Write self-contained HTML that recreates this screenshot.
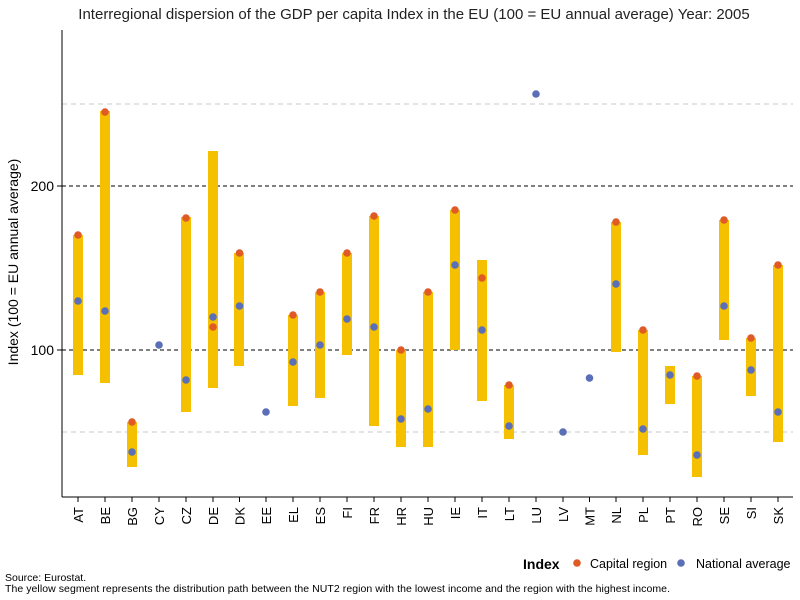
<!DOCTYPE html>
<html><head><meta charset="utf-8"><style>
body{margin:0;background:#fff;}
svg{display:block;font-family:"Liberation Sans",sans-serif;}
</style></head><body>
<svg width="800" height="600" xmlns="http://www.w3.org/2000/svg">
<rect width="800" height="600" fill="#fff"/>
<text x="414" y="19" font-size="15" text-anchor="middle" fill="#222">Interregional dispersion of the GDP per capita Index in the EU (100 = EU annual average) Year: 2005</text>
<g stroke="#c8c8c8" stroke-dasharray="5,4" stroke-width="1">
<line x1="62" x2="793" y1="104" y2="104"/><line x1="62" x2="793" y1="432" y2="432"/></g>
<g stroke="#000" stroke-dasharray="4,3" stroke-width="1">
<line x1="62" x2="793" y1="186" y2="186"/><line x1="62" x2="793" y1="350" y2="350"/></g>
<line x1="62" y1="30" x2="62" y2="497" stroke="#000"/>
<line x1="62" y1="497" x2="793" y2="497" stroke="#000"/>
<line x1="57" x2="62" y1="186" y2="186" stroke="#000"/><line x1="57" x2="62" y1="350" y2="350" stroke="#000"/>
<g stroke="#000">
<line x1="78" x2="78" y1="497" y2="502"/><line x1="105" x2="105" y1="497" y2="502"/><line x1="132" x2="132" y1="497" y2="502"/><line x1="159" x2="159" y1="497" y2="502"/><line x1="186" x2="186" y1="497" y2="502"/><line x1="213" x2="213" y1="497" y2="502"/><line x1="239.5" x2="239.5" y1="497" y2="502"/><line x1="266" x2="266" y1="497" y2="502"/><line x1="293" x2="293" y1="497" y2="502"/><line x1="320" x2="320" y1="497" y2="502"/><line x1="347" x2="347" y1="497" y2="502"/><line x1="374" x2="374" y1="497" y2="502"/><line x1="401" x2="401" y1="497" y2="502"/><line x1="428" x2="428" y1="497" y2="502"/><line x1="455" x2="455" y1="497" y2="502"/><line x1="482" x2="482" y1="497" y2="502"/><line x1="509" x2="509" y1="497" y2="502"/><line x1="536" x2="536" y1="497" y2="502"/><line x1="563" x2="563" y1="497" y2="502"/><line x1="589.5" x2="589.5" y1="497" y2="502"/><line x1="616" x2="616" y1="497" y2="502"/><line x1="643" x2="643" y1="497" y2="502"/><line x1="670" x2="670" y1="497" y2="502"/><line x1="697" x2="697" y1="497" y2="502"/><line x1="724" x2="724" y1="497" y2="502"/><line x1="751" x2="751" y1="497" y2="502"/><line x1="778" x2="778" y1="497" y2="502"/>
</g>
<text x="54" y="191" font-size="14" text-anchor="end">200</text>
<text x="54" y="355" font-size="14" text-anchor="end">100</text>
<text transform="translate(18,262) rotate(-90)" font-size="14" text-anchor="middle">Index (100 = EU annual average)</text>
<g fill="#f5c000">
<rect x="73" y="235" width="10" height="140"/>
<rect x="100" y="111" width="10" height="272"/>
<rect x="127" y="422" width="10" height="45"/>
<rect x="181" y="217" width="10" height="195"/>
<rect x="208" y="151" width="10" height="237"/>
<rect x="234" y="253" width="10" height="113"/>
<rect x="288" y="315" width="10" height="91"/>
<rect x="315" y="292" width="10" height="106"/>
<rect x="342" y="253" width="10" height="102"/>
<rect x="369" y="216" width="10" height="210"/>
<rect x="396" y="350" width="10" height="97"/>
<rect x="423" y="292" width="10" height="155"/>
<rect x="450" y="210" width="10" height="140"/>
<rect x="477" y="260" width="10" height="141"/>
<rect x="504" y="385" width="10" height="54"/>
<rect x="611" y="222" width="10" height="130"/>
<rect x="638" y="330" width="10" height="125"/>
<rect x="665" y="366" width="10" height="38"/>
<rect x="692" y="376" width="10" height="101"/>
<rect x="719" y="220" width="10" height="120"/>
<rect x="746" y="338" width="10" height="58"/>
<rect x="773" y="265" width="10" height="177"/>
</g>
<g fill="#df5a24">
<circle cx="78" cy="235" r="3.8"/><circle cx="105" cy="112" r="3.8"/><circle cx="132" cy="422" r="3.8"/>
<circle cx="186" cy="218" r="3.8"/><circle cx="213" cy="327" r="3.8"/><circle cx="239.5" cy="253" r="3.8"/>
<circle cx="293" cy="315" r="3.8"/><circle cx="320" cy="292" r="3.8"/><circle cx="347" cy="253" r="3.8"/>
<circle cx="374" cy="216" r="3.8"/><circle cx="401" cy="350" r="3.8"/><circle cx="428" cy="292" r="3.8"/>
<circle cx="455" cy="210" r="3.8"/><circle cx="482" cy="278" r="3.8"/><circle cx="509" cy="385" r="3.8"/>
<circle cx="616" cy="222" r="3.8"/><circle cx="643" cy="330" r="3.8"/><circle cx="697" cy="376" r="3.8"/>
<circle cx="724" cy="220" r="3.8"/><circle cx="751" cy="338" r="3.8"/><circle cx="778" cy="265" r="3.8"/>
</g>
<g fill="#5b6fb8">
<circle cx="78" cy="301" r="3.8"/><circle cx="105" cy="311" r="3.8"/><circle cx="132" cy="452" r="3.8"/>
<circle cx="159" cy="345" r="3.8"/><circle cx="186" cy="380" r="3.8"/><circle cx="213" cy="317" r="3.8"/>
<circle cx="239.5" cy="306" r="3.8"/><circle cx="266" cy="412" r="3.8"/><circle cx="293" cy="362" r="3.8"/>
<circle cx="320" cy="345" r="3.8"/><circle cx="347" cy="319" r="3.8"/><circle cx="374" cy="327" r="3.8"/>
<circle cx="401" cy="419" r="3.8"/><circle cx="428" cy="409" r="3.8"/><circle cx="455" cy="265" r="3.8"/>
<circle cx="482" cy="330" r="3.8"/><circle cx="509" cy="426" r="3.8"/><circle cx="536" cy="94" r="3.8"/>
<circle cx="563" cy="432" r="3.8"/><circle cx="589.5" cy="378" r="3.8"/><circle cx="616" cy="284" r="3.8"/>
<circle cx="643" cy="429" r="3.8"/><circle cx="670" cy="375" r="3.8"/><circle cx="697" cy="455" r="3.8"/>
<circle cx="724" cy="306" r="3.8"/><circle cx="751" cy="370" r="3.8"/><circle cx="778" cy="412" r="3.8"/>
</g>
<g font-size="13" text-anchor="end">
<text transform="translate(83,507) rotate(-90)">AT</text>
<text transform="translate(110,507) rotate(-90)">BE</text>
<text transform="translate(137,507) rotate(-90)">BG</text>
<text transform="translate(164,507) rotate(-90)">CY</text>
<text transform="translate(191,507) rotate(-90)">CZ</text>
<text transform="translate(218,507) rotate(-90)">DE</text>
<text transform="translate(244.5,507) rotate(-90)">DK</text>
<text transform="translate(271,507) rotate(-90)">EE</text>
<text transform="translate(298,507) rotate(-90)">EL</text>
<text transform="translate(325,507) rotate(-90)">ES</text>
<text transform="translate(352,507) rotate(-90)">FI</text>
<text transform="translate(379,507) rotate(-90)">FR</text>
<text transform="translate(406,507) rotate(-90)">HR</text>
<text transform="translate(433,507) rotate(-90)">HU</text>
<text transform="translate(460,507) rotate(-90)">IE</text>
<text transform="translate(487,507) rotate(-90)">IT</text>
<text transform="translate(514,507) rotate(-90)">LT</text>
<text transform="translate(541,507) rotate(-90)">LU</text>
<text transform="translate(568,507) rotate(-90)">LV</text>
<text transform="translate(594.5,507) rotate(-90)">MT</text>
<text transform="translate(621,507) rotate(-90)">NL</text>
<text transform="translate(648,507) rotate(-90)">PL</text>
<text transform="translate(675,507) rotate(-90)">PT</text>
<text transform="translate(702,507) rotate(-90)">RO</text>
<text transform="translate(729,507) rotate(-90)">SE</text>
<text transform="translate(756,507) rotate(-90)">SI</text>
<text transform="translate(783,507) rotate(-90)">SK</text>
</g>
<text x="523" y="569" font-size="14" font-weight="bold">Index</text>
<circle cx="577" cy="563" r="3.8" fill="#df5a24"/>
<text x="590" y="568" font-size="12.5">Capital region</text>
<circle cx="681" cy="563" r="3.8" fill="#5b6fb8"/>
<text x="696" y="568" font-size="12.5">National average</text>
<text x="5" y="581" font-size="10.5">Source: Eurostat.</text>
<text x="5" y="592" font-size="10.5" textLength="665">The yellow segment represents the distribution path between the NUT2 region with the lowest income and the region with the highest income.</text>
</svg>
</body></html>
